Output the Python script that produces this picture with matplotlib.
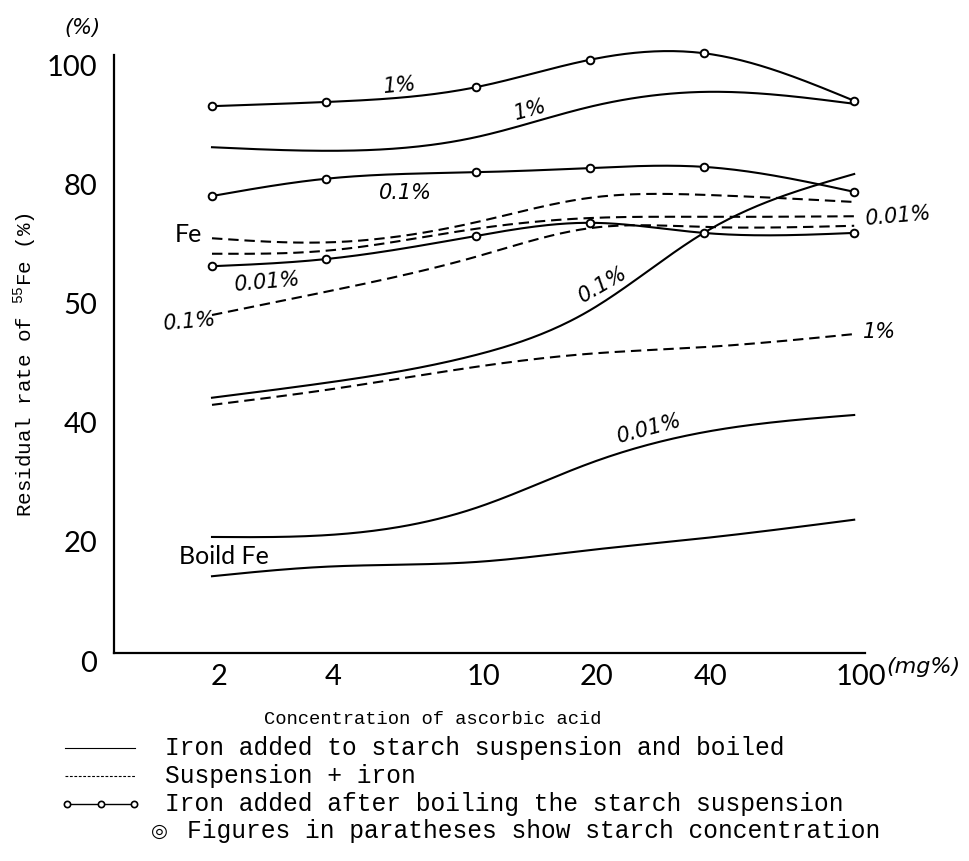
import numpy as np
import matplotlib
matplotlib.use("Agg")
import matplotlib.pyplot as plt
import matplotlib.transforms as mtransforms
from matplotlib.lines import Line2D
from matplotlib.ticker import NullLocator

W, H = 970, 861

# ascorbic acid concentration (mg%)
conc = [2, 4, 10, 20, 40, 100]
conc_labels = ["2", "4", "10", "20", "40", "100"]
y_ticks = [0, 20, 40, 60, 80, 100]
y_labels = ["0", "20", "40", "50", "80", "100"]   # printed as in the original

# iron added after boiling the starch suspension (open circles)
after_1 = [91.9, 92.6, 95.1, 99.7, 100.8, 92.8]
after_01 = [76.8, 79.7, 80.8, 81.5, 81.7, 77.5]
after_001 = [65.0, 66.2, 70.1, 72.3, 70.6, 70.6]

# iron added to starch suspension and boiled (solid)
boiled_1 = [85.0, 84.4, 86.7, 91.8, 94.3, 92.3]
boiled_01 = [42.9, 45.4, 50.1, 57.6, 70.6, 80.5]
boiled_001 = [19.5, 19.8, 24.4, 31.9, 37.1, 40.0]
boiled_fe = [12.9, 14.5, 15.3, 17.3, 19.3, 22.4]

# suspension + iron (dashed)
susp_fe = [69.7, 69.0, 72.4, 76.5, 77.0, 75.8]
susp_001 = [67.1, 67.6, 71.3, 73.1, 73.3, 73.4]
susp_01 = [56.8, 60.7, 66.6, 71.4, 71.6, 71.8]
susp_1 = [41.7, 44.2, 48.1, 50.3, 51.4, 53.6]


def smooth(xs, ys, n=200):
    """natural cubic spline in log10(x), just for drawing the curves"""
    t = np.log10(xs)
    y = np.asarray(ys, float)
    k = len(t)
    h = np.diff(t)
    A = np.zeros((k, k))
    b = np.zeros(k)
    A[0, 0] = A[-1, -1] = 1
    for i in range(1, k - 1):
        A[i, i - 1] = h[i - 1]
        A[i, i] = 2 * (h[i - 1] + h[i])
        A[i, i + 1] = h[i]
        b[i] = 3 * ((y[i + 1] - y[i]) / h[i] - (y[i] - y[i - 1]) / h[i - 1])
    c = np.linalg.solve(A, b)
    tt = np.linspace(t[0], t[-1], n)
    idx = np.clip(np.searchsorted(t, tt) - 1, 0, k - 2)
    dx = tt - t[idx]
    bb = (y[1:] - y[:-1]) / h - h * (2 * c[:-1] + c[1:]) / 3
    d = (c[1:] - c[:-1]) / (3 * h)
    yy = y[idx] + bb[idx] * dx + c[idx] * dx ** 2 + d[idx] * dx ** 3
    return 10 ** tt, yy


plt.rcParams["mathtext.fontset"] = "custom"
plt.rcParams["mathtext.rm"] = "Liberation Mono"
fig = plt.figure(figsize=(W / 100, H / 100), dpi=100)
ax = fig.add_axes([114 / W, 1 - 653 / H, (865 - 114) / W, (653 - 55) / H])

LW = 1.5
DASH = (5, 2.8)

for ys in [boiled_1, boiled_01, boiled_001, boiled_fe]:
    xx, yy = smooth(conc, ys)
    ax.plot(xx, yy, color="black", lw=LW, clip_on=False)

for ys in [susp_fe, susp_001, susp_01, susp_1]:
    xx, yy = smooth(conc, ys)
    ax.plot(xx, yy, color="black", lw=LW, dashes=DASH, clip_on=False)

for ys in [after_1, after_01, after_001]:
    xx, yy = smooth(conc, ys)
    ax.plot(xx, yy, color="black", lw=LW, clip_on=False)
    ax.plot(conc, ys, "o", ms=5.5, mfc="white", mec="black", mew=1.4,
            clip_on=False, zorder=5)

ax.set_xscale("log")
ax.set_xlim(1.101, 106.8)
ax.set_ylim(0, 100.5)
ax.xaxis.set_minor_locator(NullLocator())
ax.set_xticks(conc)
ax.set_xticklabels(conc_labels)
ax.set_yticks(y_ticks)
ax.set_yticklabels(y_labels)

gothic = ["Lato", "DejaVu Sans"]
for lab in ax.get_xticklabels() + ax.get_yticklabels():
    lab.set_family(gothic)
    lab.set_weight("normal")
    lab.set_fontsize(21)
ax.tick_params(length=0)
ax.tick_params(axis="x", pad=8)
ax.tick_params(axis="y", pad=12)

# the printed tick numbers sit a little off the scale positions
dx_off = mtransforms.ScaledTranslation(7 / 100, 0, fig.dpi_scale_trans)
dy_off = mtransforms.ScaledTranslation(0, -8 / 100, fig.dpi_scale_trans)
for lab in ax.get_xticklabels():
    lab.set_transform(lab.get_transform() + dx_off)
for lab in ax.get_yticklabels():
    lab.set_transform(lab.get_transform() + dy_off)

for s in ["top", "right"]:
    ax.spines[s].set_visible(False)
for s in ["left", "bottom"]:
    ax.spines[s].set_linewidth(1.6)


def ptext(px, py, s, **kw):
    fig.text(px / W, 1 - py / H, s, **kw)


hand = dict(family="DejaVu Sans", style="italic", size=15, ha="center", va="center")
ptext(400, 86, "1%", rotation=5, **hand)
ptext(530, 110, "1%", rotation=15, **hand)
ptext(405, 193, "0.1%", **hand)
ptext(267, 282, "0.01%", rotation=5, **hand)
ptext(190, 322, "0.1%", rotation=5, **hand)
ptext(603, 285, "0.1%", rotation=30, **hand)
ptext(898, 216, "0.01%", rotation=5, **hand)
ptext(880, 332, "1%", **hand)
ptext(649, 429, "0.01%", rotation=15, **hand)

plain = dict(family=gothic, size=18, ha="center", va="center")
ptext(188, 235, "Fe", **plain)
ptext(224, 557, "Boild Fe", **plain)
ptext(82, 28, "(%)", family="DejaVu Sans", style="italic", size=15,
      ha="center", va="center")
ptext(886, 667, "(mg%)", family="DejaVu Sans", style="italic", size=16,
      ha="left", va="center")

mono = "Liberation Mono"
ptext(25, 365, "Residual rate of $^{55}$Fe (%)", family=mono, size=15,
      rotation=90, ha="center", va="center")
ptext(433, 720, "Concentration of ascorbic acid", family=mono, size=13.5,
      ha="center", va="center")

# legend, drawn by hand like the original
leg_rows = [
    ("Iron added to starch suspension and boiled", 748),
    ("Suspension + iron", 776),
    ("Iron added after boiling the starch suspension", 804),
]
for txt, py in leg_rows:
    ptext(165, py, txt, family=mono, size=17.7, ha="left", va="center")

y1 = 1 - 748 / H
fig.add_artist(Line2D([65 / W, 135 / W], [y1, y1], color="black", lw=0.8))
y2 = 1 - 776 / H
fig.add_artist(Line2D([65 / W, 135 / W], [y2, y2], color="black", lw=0.8,
                      dashes=(2.5, 1.5)))
y3 = 1 - 804 / H
fig.add_artist(Line2D([67 / W, 134 / W], [y3, y3], color="black", lw=1.0))
fig.add_artist(Line2D([67 / W, 101 / W, 134 / W], [y3] * 3, ls="none",
                      marker="o", ms=4.5, mfc="white", mec="black", mew=1.2))
ptext(159, 831, "◎", family="DejaVu Sans", size=14, ha="center", va="center")
ptext(187, 831, "Figures in paratheses show starch concentration",
      family=mono, size=17.7, ha="left", va="center")

fig.savefig("out.png", dpi=100)
